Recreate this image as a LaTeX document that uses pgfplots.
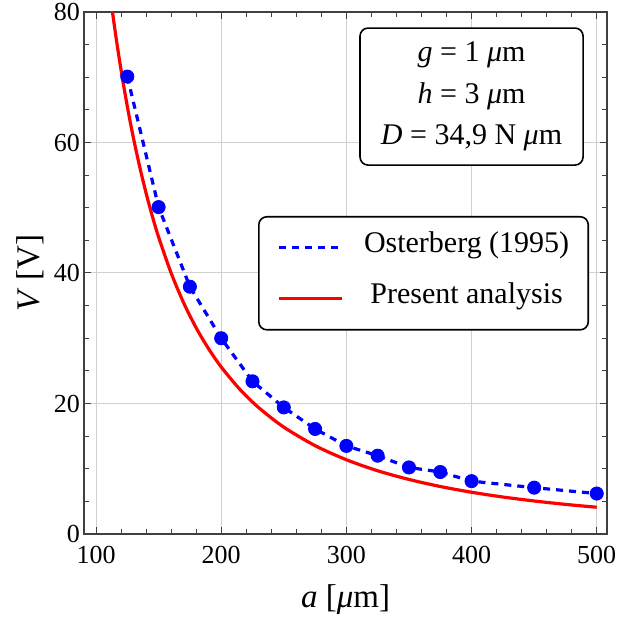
\documentclass[border=0pt]{standalone}
\usepackage{pgfplots}
\pgfplotsset{compat=1.18}
\usepackage{fontspec}
\setmainfont{Liberation Serif}
\usetikzlibrary{calc}

\begin{document}
\begin{tikzpicture}
\begin{axis}[
  name=ax,
  scale only axis,
  width=261.5pt, height=261pt,
  xmin=90.4, xmax=508.2, ymin=0, ymax=80,
  xtick={100,200,...,500}, ytick={0,20,...,80},
  minor x tick num=4, minor y tick num=3,
  tick align=inside,
  major tick length=3.5pt, minor tick length=2.5pt,
  every tick/.style={black!75, line width=0.5pt},
  axis line style={black!75, line width=0.6pt},
  grid=major,
  major grid style={black!18, line width=0.5pt},
  /pgf/number format/assume math mode=true,
  xticklabel={\pgfmathprintnumber[assume math mode=true]{\tick}},
  yticklabel={\pgfmathprintnumber[assume math mode=true]{\tick}},
  tick label style={font=\rmfamily\fontsize{13}{15}\selectfont},
  xticklabel style={yshift=-2.5pt},
  yticklabel style={xshift=1.5pt},
  xlabel={\textit{a} [\textit{μ}m]},
  ylabel={\textit{V} [V]},
  label style={font=\fontsize{16.5}{18}\selectfont},
  xlabel style={at={(axis description cs:0.5,-0.126)}, anchor=center},
  ylabel style={at={(axis description cs:-0.103,0.5)}, anchor=center},
  legend cell align=center,
  legend image code/.code={\draw[#1] (0pt,0pt) -- (31.5pt,0pt);},
  legend style={
    at={(axis description cs:0.3327,0.6092)}, anchor=north west,
    draw=black, line width=0.8pt, rounded corners=4pt,
    inner xsep=9.5pt, inner ysep=11pt,
    row sep=16.5pt, column sep=10pt,
    font=\fontsize{15}{18}\selectfont,
    nodes={inner sep=0pt, text depth=0.2em, text height=0.7em},
  },
]
% Osterberg (1995): measured points joined by a dashed line
\addplot[blue, line width=1.6pt, dash pattern=on 3.5pt off 3pt] coordinates {
  (125,70.1) (150,50.1) (175,37.9) (200,30.0) (225,23.4) (250,19.4)
  (275,16.1) (300,13.5) (325,12.0) (350,10.2) (375,9.5) (400,8.1)
  (450,7.1) (500,6.2)
};
\addlegendentry{Osterberg (1995)}

% present analysis
\addplot[red, line width=1.6pt, smooth] coordinates {
  (113,80.19) (116,76.10) (119,72.31) (122,68.80) (126,64.50) (130,60.59)
  (135,56.19) (140,52.24) (145,48.70) (150,45.51) (160,40.00) (170,35.43)
  (180,31.60) (190,28.37) (200,25.60) (215,22.15) (230,19.36) (250,16.38)
  (275,13.54) (300,11.38) (325,9.69) (350,8.36) (375,7.28) (400,6.40)
  (425,5.67) (450,5.06) (475,4.54) (500,4.10)
};
\addlegendentry{Present analysis}

\addplot[only marks, blue, mark=*, mark size=3.3pt, forget plot] coordinates {
  (125,70.1) (150,50.1) (175,37.9) (200,30.0) (225,23.4) (250,19.4)
  (275,16.1) (300,13.5) (325,12.0) (350,10.2) (375,9.5) (400,8.1)
  (450,7.1) (500,6.2)
};

\node[draw=black, line width=0.8pt, rounded corners=4pt, fill=white,
      align=center, minimum width=111.5pt, minimum height=68.5pt,
      font=\fontsize{15}{20.8}\selectfont]
  at (axis description cs:0.741,0.838)
  {\textit{g} = 1 \textit{μ}m\\ \textit{h} = 3 \textit{μ}m\\ \textit{D} = 34,9 N \textit{μ}m};
\end{axis}
\pgfresetboundingbox
\path[use as bounding box] ($(ax.south west)+(-42pt,-45.5pt)$) rectangle ($(ax.north east)+(5.5pt,6pt)$);
\end{tikzpicture}
\end{document}
